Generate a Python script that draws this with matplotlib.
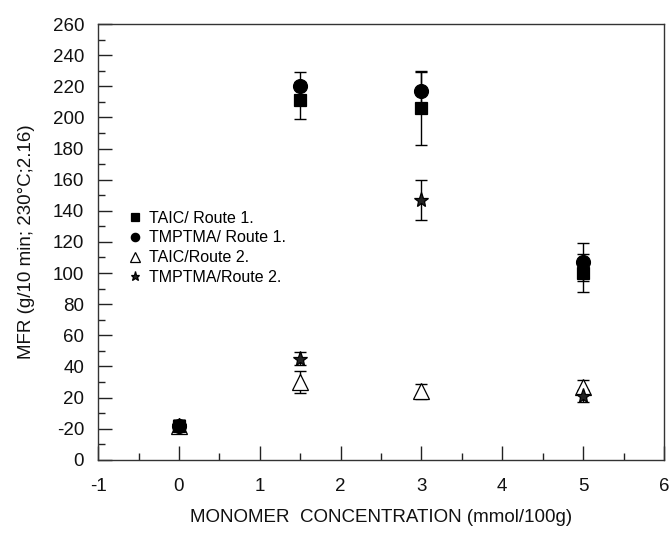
import numpy as np
import matplotlib.pyplot as plt
from matplotlib.ticker import MultipleLocator

plt.rcParams['font.family'] = ['Liberation Sans', 'DejaVu Sans']
plt.rcParams['axes.unicode_minus'] = False

# monomer concentration (mmol/100g)
conc = [0, 1.5, 3, 5]

# MFR values, read in tick-label units (axis is broken near the bottom)
taic_r1 = [1.5, 211, 206, 100]
taic_r1_err = [4, 12, 24, 12]
tmptma_r1 = [1.5, 220, 217, 107]
tmptma_r1_err = [4, 9, 12, 12]
taic_r2 = [1.5, 30, 24, 27]
taic_r2_err = [4, 7, 5, 4]
tmptma_r2 = [1.5, 45, 147, 21]
tmptma_r2_err = [4, 4, 13, 4]

ytick_pos = list(range(-20, 261, 20))
ytick_lab = ['0', '-20'] + [str(v) for v in range(20, 261, 20)]

fig = plt.figure(figsize=(6.72, 5.34), dpi=100)
ax = fig.add_axes([0.146, 0.139, 0.842, 0.816])

series = [
    (taic_r1, taic_r1_err, 's', 'black', 'TAIC/ Route 1.', 9, 5),
    (tmptma_r1, tmptma_r1_err, 'o', 'black', 'TMPTMA/ Route 1.', 10, 5),
    (taic_r2, taic_r2_err, '^', 'white', 'TAIC/Route 2.', 11, 3),
    (tmptma_r2, tmptma_r2_err, '*', '#222222', 'TMPTMA/Route 2.', 11, 4),
]

for vals, errs, mk, fc, lab, ms, z in series:
    ax.errorbar(conc, vals, yerr=errs, fmt='none', ecolor='black',
                elinewidth=1, capsize=4, capthick=1, zorder=2)
    ax.plot(conc, vals, linestyle='none', marker=mk, markersize=ms,
            markerfacecolor=fc, markeredgecolor='black', markeredgewidth=0.9,
            label=lab, zorder=z)

ax.set_xlim(-1, 6)
ax.set_ylim(-20, 260)
ax.xaxis.set_major_locator(MultipleLocator(1))
ax.xaxis.set_minor_locator(MultipleLocator(0.5))
ax.set_yticks(ytick_pos)
ax.set_yticklabels(ytick_lab)
ax.yaxis.set_minor_locator(MultipleLocator(10))

ax.tick_params(which='both', direction='in', top=False, right=False,
               labelsize=13.5, colors='#222222', labelcolor='#111111')
ax.tick_params(which='major', length=10, width=1)
ax.tick_params(which='minor', length=5, width=1)
ax.tick_params(axis='y', which='major', pad=10)
ax.tick_params(axis='x', which='major', pad=13)
for sp in ax.spines.values():
    sp.set_color('#333333')
    sp.set_linewidth(1)

ax.set_xlabel('MONOMER  CONCENTRATION (mmol/100g)', fontsize=13.5,
              labelpad=10, color='#111111')
ax.set_ylabel('MFR (g/10 min; 230°C;2.16)', fontsize=13.5, labelpad=13,
              color='#111111')

leg = ax.legend(loc='upper left', bbox_to_anchor=(0.040, 0.59), frameon=False,
                fontsize=11.5, markerscale=0.6, handlelength=0.8,
                handletextpad=0.45, labelspacing=0.3, borderpad=0)

fig.savefig('out.png', dpi=100)
